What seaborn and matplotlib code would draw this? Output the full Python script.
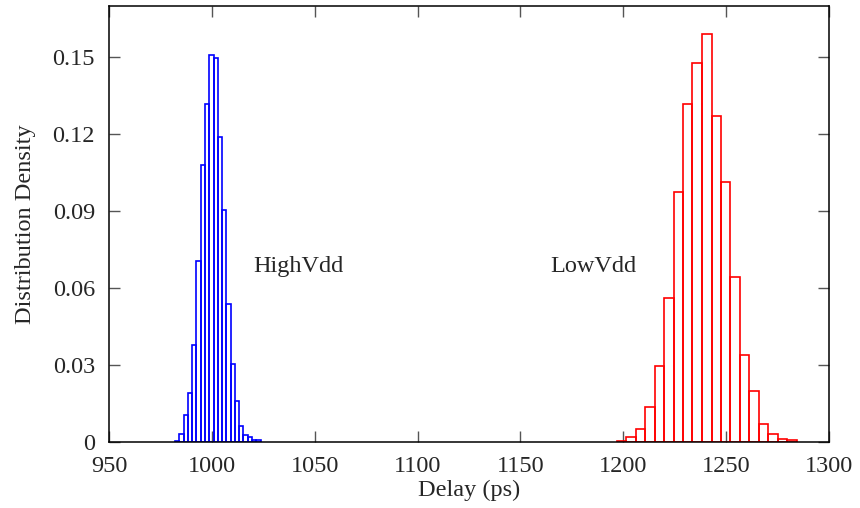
import numpy as np
import pandas as pd
import matplotlib
matplotlib.use('Agg')
import matplotlib.pyplot as plt
import seaborn as sns

# ------------------------------------------------------
# DATA (bin edges and per-bin probabilities)
# ------------------------------------------------------

high_edges = [982.1, 984.18, 986.26, 988.34, 990.42, 992.5, 994.58, 996.66,
              998.74, 1000.82, 1002.9, 1004.98, 1007.06, 1009.14, 1011.22,
              1013.3, 1015.38, 1017.46, 1019.54, 1021.62, 1023.7]
high_prob = [0.0005, 0.0030, 0.0106, 0.0190, 0.0380, 0.0705, 0.1082, 0.1317,
             0.1510, 0.1499, 0.1190, 0.0906, 0.0540, 0.0303, 0.0158, 0.0062,
             0.0026, 0.0018, 0.0008, 0.0006]

low_edges = [1196.8, 1201.4, 1206.0, 1210.6, 1215.2, 1219.8, 1224.4, 1229.0,
             1233.6, 1238.2, 1242.9, 1247.5, 1252.1, 1256.7, 1261.3, 1265.9,
             1270.5, 1275.1, 1279.7, 1284.3]
low_prob = [0.0005, 0.0021, 0.0049, 0.0138, 0.0297, 0.0560, 0.0975, 0.1317,
            0.1479, 0.1592, 0.1271, 0.1014, 0.0644, 0.0339, 0.0199, 0.0069,
            0.0030, 0.0013, 0.0008]

x_ticks = [950, 1000, 1050, 1100, 1150, 1200, 1250, 1300]
y_ticks = [0, 0.03, 0.06, 0.09, 0.12, 0.15]
y_tick_labels = ['0', '0.03', '0.06', '0.09', '0.12', '0.15']

# ------------------------------------------------------
# PLOT
# ------------------------------------------------------

sns.set_style('ticks')
plt.rcParams['font.family'] = ['Liberation Serif', 'DejaVu Serif']
plt.rcParams['font.size'] = 17

def to_frame(edges, probs):
	edges = np.asarray(edges)
	centers = (edges[:-1] + edges[1:]) / 2
	return pd.DataFrame({'Delay': centers, 'Prob': probs})

high = to_frame(high_edges, high_prob)
low = to_frame(low_edges, low_prob)

fig = plt.figure(figsize=(8.6, 5.08), dpi=100)
ax = fig.add_axes([0.1267, 0.13, 0.8373, 0.858])

sns.histplot(data=high, x='Delay', weights='Prob', bins=high_edges,
	stat='count', fill=False, color='#0000ff', linewidth=1.2, ax=ax)
sns.histplot(data=low, x='Delay', weights='Prob', bins=low_edges,
	stat='count', fill=False, color='#ff0000', linewidth=1.2, ax=ax)

ax.set_xlim(950, 1300)
ax.set_ylim(0, 0.17)
ax.set_xticks(x_ticks)
ax.set_xticklabels([str(t) for t in x_ticks])
ax.set_yticks(y_ticks)
ax.set_yticklabels(y_tick_labels)

ax.tick_params(direction='in', length=8, width=1.0, top=True, right=True,
	labelsize=17.5, color='#555555')
ax.tick_params(axis='x', pad=10)
ax.tick_params(axis='y', pad=10)
for s in ax.spines.values():
	s.set_visible(True)
	s.set_linewidth(1.1)
	s.set_color('black')

ax.set_xlabel('Delay (ps)', fontsize=17.5, labelpad=2)
ax.set_ylabel('Distribution Density', fontsize=17.5, labelpad=12)

ax.text(1020, 0.0685, 'HighVdd', fontsize=17.5, va='center', ha='left')
ax.text(1164.5, 0.0685, 'LowVdd', fontsize=17.5, va='center', ha='left')

fig.savefig('out.png', dpi=100)
